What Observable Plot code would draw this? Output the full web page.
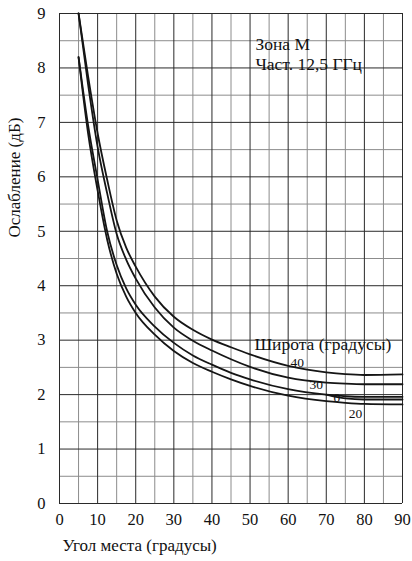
<!DOCTYPE html>
<html><head><meta charset="utf-8">
<script src="https://cdn.jsdelivr.net/npm/d3@7"></script>
<script src="https://cdn.jsdelivr.net/npm/@observablehq/plot@0.6"></script>
<style>
body{margin:0;background:#fff;}
#chart svg{background:#fff;}
#chart svg text{font-family:"Liberation Serif","DejaVu Serif",serif !important;}
</style></head><body><div id="chart"></div>
<script>
// Elevation angle (degrees)
const angles = [5, 7.5, 10, 12.5, 15, 17.5, 20, 25, 30, 35, 40, 45, 50, 60, 70, 75, 80, 90];
// Attenuation (dB) by latitude
const lat40 = [9.0, 7.85, 6.8, 5.95, 5.2, 4.7, 4.35, 3.8, 3.43, 3.19, 3.01, 2.87, 2.74, 2.53, 2.41, 2.375, 2.36, 2.37];
const lat30 = [9.0, 7.7, 6.55, 5.7, 4.95, 4.48, 4.13, 3.6, 3.23, 2.99, 2.81, 2.65, 2.51, 2.31, 2.22, 2.20, 2.19, 2.19];
const lat0  = [8.2, 6.95, 5.95, 5.0, 4.38, 3.95, 3.65, 3.25, 2.95, 2.72, 2.55, 2.40, 2.28, 2.10, 2.00, 1.97, 1.96, 1.96];
const lat20 = [8.2, 6.8, 5.75, 4.85, 4.22, 3.8, 3.5, 3.1, 2.8, 2.58, 2.42, 2.28, 2.16, 1.98, 1.88, 1.85, 1.83, 1.82];
// short second branch next to the "0" curve at high angles
const branchAngles = [70, 75, 80, 90];
const branchValues = [2.00, 1.93, 1.91, 1.91];

const seriesNames = ["40", "30", "0", "20"];
const seriesValues = [lat40, lat30, lat0, lat20];

// curve labels (text, angle, dB)
const curveLabels = ["40", "30", "0", "20"];
const curveLabelX = [62.4, 67.4, 72.8, 77.7];
const curveLabelY = [2.59, 2.18, 1.95, 1.65];

// notes
const noteText = ["Зона М", "Част. 12,5 ГГц"];
const noteX = [51.4, 51.4];
const noteY = [8.44, 8.07];
const legendTitle = ["Широта (градусы)"];
const legendX = [69.1];
const legendY = [2.92];

// ticks and grid
const xMajor = [0, 10, 20, 30, 40, 50, 60, 70, 80, 90];
const xMinor = [5, 15, 25, 35, 45, 55, 65, 75, 85];
const yMajor = [0, 1, 2, 3, 4, 5, 6, 7, 8, 9];
const yMinor = [0.5, 1.5, 2.5, 3.5, 4.5, 5.5, 6.5, 7.5, 8.5];

const xTitle = "Угол места (градусы)";
const yTitle = "Ослабление (дБ)";

const rows = [];
seriesNames.forEach((s, i) => angles.forEach((a, j) => rows.push({series: s, x: a, y: seriesValues[i][j]})));
branchAngles.forEach((a, j) => rows.push({series: "0b", x: a, y: branchValues[j]}));

const labels = curveLabels.map((t, i) => ({t, x: curveLabelX[i], y: curveLabelY[i]}));
const notes = noteText.map((t, i) => ({t, x: noteX[i], y: noteY[i]}));
const legend = legendTitle.map((t, i) => ({t, x: legendX[i], y: legendY[i]}));

const svg = Plot.plot({
  width: 412, height: 561,
  marginLeft: 59, marginRight: 10, marginTop: 13, marginBottom: 58,
  style: {fontSize: "15px", color: "#111", background: "#fff"},
  x: {domain: [0, 90]},
  y: {domain: [0, 9]},
  marks: [
    Plot.ruleX(xMinor, {stroke: "#8c8c8c", strokeWidth: 1}),
    Plot.ruleY(yMinor, {stroke: "#8c8c8c", strokeWidth: 1}),
    Plot.ruleX(xMajor, {stroke: "#2a2a2a", strokeWidth: 1}),
    Plot.ruleY(yMajor, {stroke: "#2a2a2a", strokeWidth: 1}),
    Plot.line(rows, {x: "x", y: "y", z: "series", stroke: "#151515", strokeWidth: 1.8, curve: "monotone-x"}),
    Plot.text(labels, {x: "x", y: "y", text: "t", fontSize: 13.5, fill: "#111", ariaLabel: "boxlabel"}),
    Plot.text(legend, {x: "x", y: "y", text: "t", fontSize: 17.5, fill: "#111", ariaLabel: "boxed"}),
    Plot.text(notes, {x: "x", y: "y", text: "t", fontSize: 17.5, textAnchor: "start", fill: "#111", ariaLabel: "boxnote"}),
    Plot.axisX({ticks: xMajor, tickSize: 0, tickPadding: 10, label: null, fontSize: 16.5}),
    Plot.axisY({ticks: yMajor, tickSize: 0, tickPadding: 14, label: null, fontSize: 16.5}),
    Plot.text([xTitle], {frameAnchor: "bottom-left", textAnchor: "start", dx: 3, dy: 47, fontSize: 17, fill: "#111"}),
    Plot.text([yTitle], {frameAnchor: "left", rotate: -90, dx: -45, dy: -21, fontSize: 17, fill: "#111"})
  ]
});
document.getElementById("chart").append(svg);
function box(sel, padX, padTop, padBottom) {
  svg.querySelectorAll(sel).forEach(t => {
    const b = t.getBBox();
    const r = document.createElementNS("http://www.w3.org/2000/svg", "rect");
    r.setAttribute("x", b.x - padX);
    r.setAttribute("y", b.y + padTop);
    r.setAttribute("width", b.width + 2 * padX);
    r.setAttribute("height", b.height - padTop - padBottom);
    r.setAttribute("fill", "#fff");
    r.setAttribute("stroke", "none");
    const tr = t.getAttribute("transform");
    if (tr) r.setAttribute("transform", tr);
    t.parentNode.insertBefore(r, t);
  });
}
box('g[aria-label="boxlabel"] text', 2.5, 2, 1);
box('g[aria-label="boxed"] text', 1.5, 2, 1);
box('g[aria-label="boxnote"] text', 1.5, -1, -1);
</script></body></html>
